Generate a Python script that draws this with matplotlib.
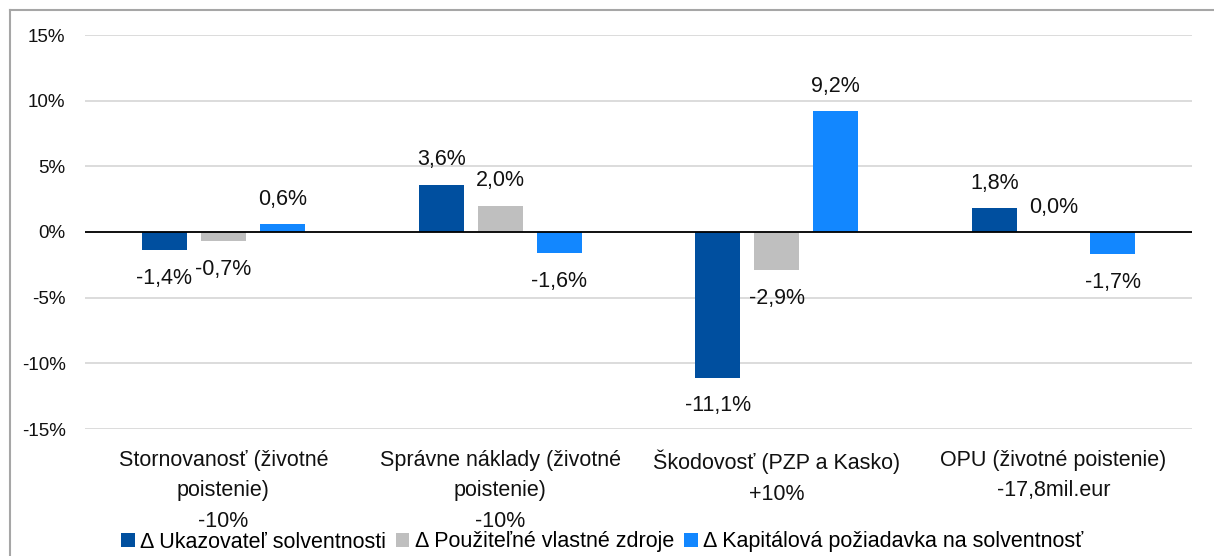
import numpy as np
import matplotlib
matplotlib.use("Agg")
import matplotlib.pyplot as plt
from matplotlib.lines import Line2D

plt.rcParams['font.family'] = ['Liberation Sans', 'DejaVu Sans']

# scenarios and their impact in percent
categories = [
    "Stornovanosť (životné\npoistenie)\n-10%",
    "Správne náklady (životné\npoistenie)\n-10%",
    "Škodovosť (PZP a Kasko)\n+10%",
    "OPU (životné poistenie)\n-17,8mil.eur",
]
series_names = [
    "Δ Ukazovateľ solventnosti",
    "Δ Použiteľné vlastné zdroje",
    "Δ Kapitálová požiadavka na solventnosť",
]
ukazovatel = [-1.4, 3.6, -11.1, 1.8]
vlastne_zdroje = [-0.7, 2.0, -2.9, 0.0]
kapitalova_poz = [0.6, -1.6, 9.2, -1.7]
yticks = [-15, -10, -5, 0, 5, 10, 15]

colors = ["#004f9f", "#bfbfbf", "#1287ff"]
fs = 15.5

W, H = 1214, 556
fig = plt.figure(figsize=(W / 100, H / 100), dpi=100)
ax = fig.add_axes([85 / W, 1 - 429 / H, (1192 - 85) / W, (429 - 35) / H])

x = np.arange(len(categories))
width = 0.163
step = 0.213
all_series = [ukazovatel, vlastne_zdroje, kapitalova_poz]

for i, (vals, name, col) in enumerate(zip(all_series, series_names, colors)):
    pos = x + (i - 1) * step
    ax.bar(pos, vals, width, color=col, label=name, zorder=3)
    for p, v in zip(pos, vals):
        off = 25 if v >= 0 else -28
        ax.annotate(f"{v:.1f}%".replace(".", ","), (p, v), xytext=(0, off * 0.72),
                    textcoords="offset points", ha="center", va="center",
                    fontsize=fs, color="#111111")

ax.set_xlim(-0.5, len(categories) - 0.5)
ax.set_ylim(-15, 15)
ax.set_yticks(yticks)
ax.set_yticklabels([f"{t}%" for t in yticks])
ax.set_xticks(x)
ax.set_xticklabels(categories, linespacing=1.6)
ax.tick_params(axis="y", length=0, pad=14, labelsize=13.5, labelcolor="#111111")
ax.tick_params(axis="x", length=0, pad=15, labelsize=fs, labelcolor="#111111")

ax.grid(axis="y", color="#d9d9d9", linewidth=1.3, zorder=0)
ax.axhline(0, color="black", linewidth=1.3, zorder=4)
for s in ax.spines.values():
    s.set_visible(False)

fig.legend(loc="center", bbox_to_anchor=(602 / W, 1 - 542 / H), ncol=3, frameon=False,
           fontsize=fs, handlelength=0.64, handleheight=0.64, handletextpad=0.25,
           columnspacing=0.45, borderpad=0)

# chart border (left and top visible)
fig.add_artist(Line2D([9.5 / W, 9.5 / W], [0, 1 - 9.5 / H], color="#a6a6a6", linewidth=1.5))
fig.add_artist(Line2D([9.5 / W, 1], [1 - 9.5 / H, 1 - 9.5 / H], color="#a6a6a6", linewidth=1.5))

fig.savefig("out.png", dpi=100)
